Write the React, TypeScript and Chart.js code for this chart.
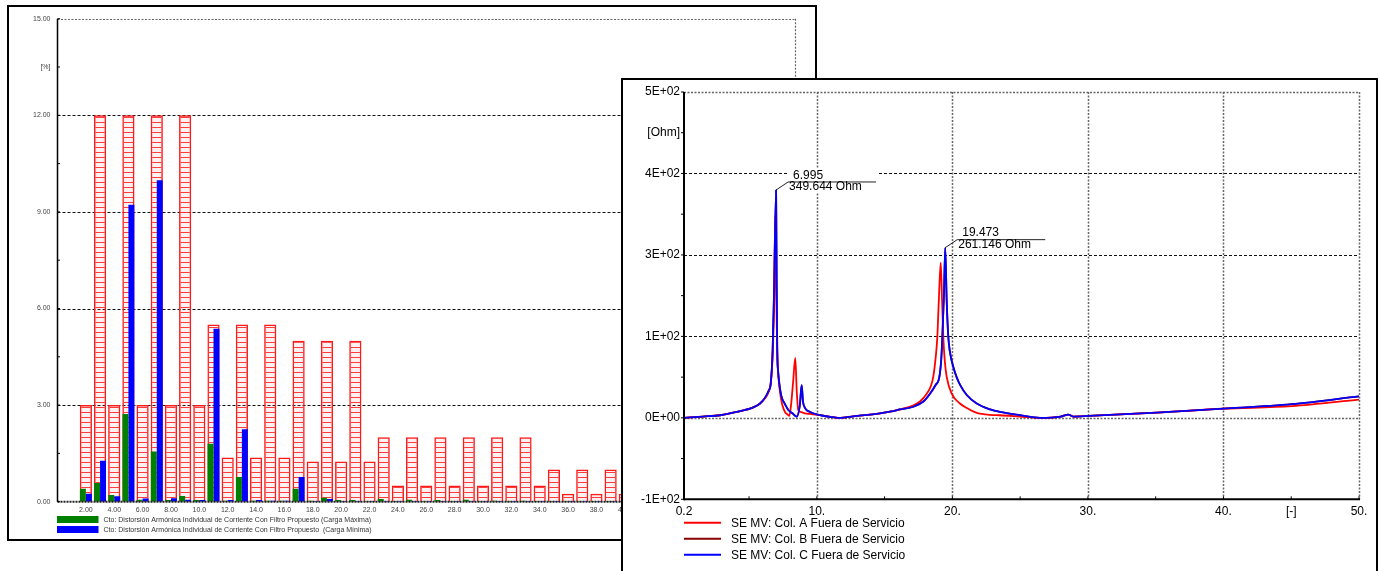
import React, { useEffect, useRef } from 'react';
import { Chart, registerables } from 'chart.js';

Chart.register(...registerables);

const FONT = "'Liberation Sans', Arial, Helvetica, sans-serif";

// ---------------- Left chart: individual harmonic current distortion ----------------
const harmonicOrders = [
  2, 3, 4, 5, 6, 7, 8, 9, 10, 11, 12, 13, 14, 15, 16, 17, 18, 19, 20, 21, 22, 23, 24, 25, 26,
  27, 28, 29, 30, 31, 32, 33, 34, 35, 36, 37, 38, 39, 40, 41, 42, 43, 44, 45, 46, 47, 48, 49, 50,
];
const limitIEEE = [
  3, 12, 3, 12, 3, 12, 3, 12, 3,
  5.5, 1.375, 5.5, 1.375, 5.5, 1.375,
  5, 1.25, 5, 1.25, 5, 1.25,
  2, 0.5, 2, 0.5, 2, 0.5, 2, 0.5, 2, 0.5, 2, 0.5,
  1, 0.25, 1, 0.25, 1, 0.25, 1, 0.25, 1, 0.25, 1, 0.25, 1, 0.25,
];
const distCargaMaxima = [
  0.4, 0.58, 0.21, 2.72, 0.06, 1.56, 0.05, 0.18, 0.05,
  1.8, 0.03, 0.77, 0.03, 0.03, 0.03,
  0.4, 0.03, 0.12, 0.05, 0.05, 0.02,
  0.08, 0.02, 0.06, 0.02, 0.05, 0.02, 0.06, 0.02, 0.03, 0.02, 0.03, 0.02,
  0.02, 0.02, 0.02, 0.02, 0.02, 0.02, 0.02, 0.02, 0.02, 0.02, 0.02, 0.02, 0.02, 0.02,
];
const distCargaMinima = [
  0.25, 1.27, 0.17, 9.22, 0.1, 9.98, 0.11, 0.06, 0.05,
  5.37, 0.05, 2.25, 0.05, 0.03, 0.03,
  0.77, 0.02, 0.08, 0.02, 0.02, 0.02,
  0.02, 0.02, 0.02, 0.02, 0.02, 0.02, 0.02, 0.02, 0.02, 0.02, 0.02, 0.02,
  0.02, 0.02, 0.02, 0.02, 0.02, 0.02, 0.02, 0.02, 0.02, 0.02, 0.02, 0.02, 0.02, 0.02,
];
const leftLegendLabels = [
  'Cto: Distorsión Armónica Individual de Corriente Con Filtro Propuesto (Carga Máxima)',
  'Cto: Distorsión Armónica Individual de Corriente Con Filtro Propuesto  (Carga Mínima)',
];
const leftMajorY = [3, 6, 9, 12];

// ---------------- Right chart: frequency sweep impedance ----------------
const harmA = [
  0.2, 1.6, 2.86, 4.09, 5.31, 5.81, 6.18, 6.45, 6.6, 6.74,
  6.85, 6.93, 7.0, 7.08, 7.18, 7.28, 7.45, 7.65, 7.85, 7.97,
  8.1, 8.25, 8.41, 8.52, 8.63, 8.8, 9.13, 9.5, 10.23, 11.0,
  11.56, 13.0, 14.66, 15.5, 16.14, 17.1, 17.61, 18.11, 18.4, 18.59,
  18.78, 18.89, 19.0, 19.14, 19.24, 19.33, 19.45, 19.58, 19.95, 20.56,
  21.06, 21.75, 22.78, 23.51, 25.0, 26.47, 28.0, 28.55, 28.92, 30.06,
  35.07, 40.02, 45.03, 50.0,
];
const zA = [
  0, 2, 4, 9, 16, 22, 30, 40, 53, 95,
  180, 310, 200, 100, 60, 40, 20, 9, 5, 3,
  20, 55, 92, 40, 12, 9, 7, 6, 4, 1.5,
  0, 3, 7, 10, 13, 19, 25, 37, 48, 63,
  95, 124, 180, 238, 180, 124, 85, 63, 37, 22,
  15, 8, 4.5, 4, 2, 0, 2, 5, 2, 3,
  8, 14, 18, 28,
];
const harmC = [
  0.2, 1.6, 2.86, 4.09, 5.31, 5.81, 6.18, 6.45, 6.6, 6.74,
  6.85, 6.995, 7.04, 7.08, 7.15, 7.23, 7.4, 7.6, 7.9, 8.2,
  8.52, 8.75, 8.88, 8.98, 9.13, 9.5, 10.23, 11.0, 11.56, 13.0,
  14.66, 15.5, 16.14, 17.12, 17.86, 18.35, 18.75, 19.04, 19.18, 19.26,
  19.38, 19.473, 19.58, 19.7, 19.83, 20.07, 20.32, 20.56, 21.06, 21.8,
  22.78, 23.51, 25.0, 26.47, 28.0, 28.55, 28.92, 30.06, 35.07, 40.02,
  45.03, 50.0,
];
const zC = [
  0, 2, 4, 9, 16, 22, 31, 42, 53, 104,
  200, 349.644, 200, 104, 70, 53, 32, 23, 12, 7,
  2, 20, 50, 25, 15, 9, 4, 1.5, 0, 3,
  7, 10, 13, 17, 25, 37, 50, 63, 90, 124,
  190, 261.146, 180, 124, 100, 78, 62, 51, 35, 22,
  13, 9, 4, 0, 2, 5, 2, 3, 8, 14,
  21, 33,
];
// Col. B coincides with Col. C (hidden under it)
const harmB = harmC.slice();
const zB = zC.slice();
const seriesLabels = [
  'SE MV: Col. A Fuera de Servicio',
  'SE MV: Col. B Fuera de Servicio',
  'SE MV: Col. C Fuera de Servicio',
];
const seriesColors = ['#ff0000', '#8b0000', '#0000ff'];
const peakX = [6.995, 19.473];
const peakZ = [349.644, 261.146];
const rightXTicks = [0.2, 5, 10, 15, 20, 25, 30, 35, 40, 45, 50];
const rightMajorX = [10, 20, 30, 40, 50];
const rightDashedY = [375, 250, 125];
const rightDottedY = [0, 500];

function seg(ctx: any, x1: number, y1: number, x2: number, y2: number, color: string, width: number, dash: number[]) {
  ctx.save();
  ctx.strokeStyle = color;
  ctx.lineWidth = width;
  ctx.setLineDash(dash);
  ctx.beginPath();
  ctx.moveTo(x1, y1);
  ctx.lineTo(x2, y2);
  ctx.stroke();
  ctx.restore();
}

function LeftChart() {
  const ref = useRef<HTMLCanvasElement>(null);
  useEffect(() => {
    const canvas = ref.current as HTMLCanvasElement;
    const pc = document.createElement('canvas');
    pc.width = 8;
    pc.height = 5;
    const p = pc.getContext('2d') as CanvasRenderingContext2D;
    p.fillStyle = 'rgba(255,120,120,0.10)';
    p.fillRect(0, 0, 8, 5);
    p.fillStyle = 'rgba(255,40,40,0.9)';
    p.fillRect(0, 0, 8, 1);
    const pattern = (canvas.getContext('2d') as CanvasRenderingContext2D).createPattern(pc, 'repeat');

    const decor = {
      id: 'leftDecor',
      beforeDatasetsDraw(chart: any) {
        const { ctx, chartArea: a, scales } = chart;
        const x = scales.x;
        const y = scales.y;
        for (const v of leftMajorY) {
          const py = Math.round(y.getPixelForValue(v)) + 0.5;
          seg(ctx, a.left, py, a.right, py, '#111', 1, [3, 2]);
        }
        const pt = Math.round(y.getPixelForValue(y.max)) + 0.5;
        seg(ctx, a.left, pt, a.right, pt, '#666', 1.2, [2, 1.5]);
        const pr = Math.round(x.getPixelForValue(x.max)) + 0.5;
        seg(ctx, pr, a.top, pr, a.bottom, '#666', 1.2, [2, 1.5]);
      },
      afterDatasetsDraw(chart: any) {
        const { ctx, chartArea: a, scales } = chart;
        const y = scales.y;
        seg(ctx, a.left, a.bottom, a.right, a.bottom, '#222', 2, [2, 1]);
        seg(ctx, a.left, a.top, a.left, a.bottom, '#000', 1.5, []);
        y.ticks.forEach((t: any) => {
          const py = y.getPixelForValue(t.value);
          seg(ctx, a.left, py, a.left + 2.5, py, '#000', 1, []);
        });
        const cols = ['#008000', '#0000ff'];
        leftLegendLabels.forEach((t, i) => {
          const ry = a.bottom + 14.3 + i * 10;
          ctx.save();
          ctx.fillStyle = cols[i];
          ctx.fillRect(a.left - 0.5, ry, 41.5, 7);
          ctx.fillStyle = '#333';
          ctx.font = `7px ${FONT}`;
          ctx.textBaseline = 'middle';
          ctx.fillText(t, a.left + 46, ry + 3.7);
          ctx.restore();
        });
      },
    };

    const chart = new Chart(canvas, {
      type: 'bar',
      data: {
        labels: harmonicOrders,
        datasets: [
          {
            label: 'Límite',
            data: limitIEEE,
            grouped: false,
            order: 1,
            backgroundColor: pattern as any,
            borderColor: '#ff1a1a',
            borderWidth: 1.5,
            categoryPercentage: 1,
            barPercentage: 0.86,
          } as any,
          {
            label: leftLegendLabels[0],
            data: distCargaMaxima,
            order: 0,
            backgroundColor: '#008000',
            borderWidth: 0,
            categoryPercentage: 0.84,
            barPercentage: 1,
          },
          {
            label: leftLegendLabels[1],
            data: distCargaMinima,
            order: 0,
            backgroundColor: '#0000ff',
            borderWidth: 0,
            categoryPercentage: 0.84,
            barPercentage: 1,
          },
        ],
      },
      options: {
        animation: false,
        responsive: false,
        maintainAspectRatio: false,
        events: [],
        layout: { padding: { left: 0, top: 11.7, right: 20, bottom: 0 } },
        plugins: { legend: { display: false }, tooltip: { enabled: false } },
        scales: {
          x: {
            type: 'linear',
            min: 0,
            max: 52,
            offset: false,
            grid: { display: false, drawTicks: false, offset: false },
            border: { display: false },
            afterFit: (s: any) => {
              s.height = 37.3;
            },
            ticks: {
              stepSize: 2,
              autoSkip: false,
              maxRotation: 0,
              padding: 4,
              color: '#444',
              font: { family: FONT, size: 7 },
              callback: (v: any) => {
                const n = Number(v);
                if (n <= 0 || n > 50) return '';
                return n < 10 ? n.toFixed(2) : n.toFixed(1);
              },
            },
          },
          y: {
            type: 'linear',
            min: 0,
            max: 15,
            grid: { display: false, drawTicks: false },
            border: { display: false },
            afterFit: (s: any) => {
              s.width = 48.5;
            },
            ticks: {
              stepSize: 1.5,
              autoSkip: false,
              padding: 7,
              color: '#444',
              font: { family: FONT, size: 7 },
              callback: (v: any) => {
                const n = Number(v);
                if (Math.abs(n - 13.5) < 1e-6) return '[%]';
                if (Math.abs(n / 3 - Math.round(n / 3)) < 1e-6) return n.toFixed(2);
                return '';
              },
            },
          },
        },
      } as any,
      plugins: [decor],
    });
    return () => chart.destroy();
  }, []);
  return <canvas ref={ref} width={806} height={532} style={{ display: 'block' }} />;
}

function RightChart() {
  const ref = useRef<HTMLCanvasElement>(null);
  useEffect(() => {
    const canvas = ref.current as HTMLCanvasElement;
    const decor = {
      id: 'rightDecor',
      beforeDatasetsDraw(chart: any) {
        const { ctx, chartArea: a, scales } = chart;
        const x = scales.x;
        const y = scales.y;
        for (const v of rightDashedY) {
          const py = Math.round(y.getPixelForValue(v)) + 0.5;
          seg(ctx, a.left, py, a.right, py, '#111', 1, [3, 2]);
        }
        for (const v of rightDottedY) {
          const py = Math.round(y.getPixelForValue(v)) + 0.5;
          seg(ctx, a.left, py, a.right, py, '#666', 1.5, [2, 1.5]);
        }
        for (const v of rightMajorX) {
          const px = Math.round(x.getPixelForValue(v)) + 0.5;
          seg(ctx, px, a.top, px, a.bottom, '#666', 1.5, [2, 1.5]);
        }
      },
      afterDatasetsDraw(chart: any) {
        const { ctx, chartArea: a, scales } = chart;
        const x = scales.x;
        const y = scales.y;
        // peak annotations
        peakX.forEach((vx, i) => {
          const px = x.getPixelForValue(vx);
          const py = y.getPixelForValue(peakZ[i]);
          ctx.save();
          ctx.fillStyle = '#fff';
          ctx.fillRect(px + 11, py - 22, 90, 24);
          ctx.strokeStyle = '#222';
          ctx.lineWidth = 1;
          ctx.beginPath();
          ctx.moveTo(px, py);
          ctx.lineTo(px + 12, py - 8);
          ctx.lineTo(px + 100, py - 8);
          ctx.stroke();
          ctx.fillStyle = '#000';
          ctx.font = `12px ${FONT}`;
          ctx.textBaseline = 'middle';
          ctx.fillText(vx.toFixed(3), px + 17, py - 14.5);
          ctx.fillText(`${peakZ[i].toFixed(3)} Ohm`, px + 13, py - 3);
          ctx.restore();
        });
        // axes
        seg(ctx, a.left, a.top, a.left, a.bottom + 1, '#000', 2, []);
        seg(ctx, a.left, a.bottom, a.right + 1, a.bottom, '#000', 2, []);
        y.ticks.forEach((t: any) => {
          const py = y.getPixelForValue(t.value);
          seg(ctx, a.left - 3, py, a.left, py, '#000', 1, []);
        });
        x.ticks.forEach((t: any) => {
          const px = x.getPixelForValue(t.value);
          seg(ctx, px, a.bottom, px, a.bottom - 3, '#000', 1, []);
        });
        // legend
        seriesLabels.forEach((t, i) => {
          const ly = a.bottom + 23.4 + i * 16;
          seg(ctx, a.left, ly, a.left + 37, ly, seriesColors[i], 2, []);
          ctx.save();
          ctx.fillStyle = '#000';
          ctx.font = `12px ${FONT}`;
          ctx.textBaseline = 'middle';
          ctx.fillText(t, a.left + 47, ly + 0.5);
          ctx.restore();
        });
      },
    };

    const mk = (xs: number[], ys: number[]) => xs.map((v, i) => ({ x: v, y: ys[i] }));

    const chart = new Chart(canvas, {
      type: 'line',
      data: {
        datasets: [
          {
            label: seriesLabels[0],
            data: mk(harmA, zA),
            borderColor: seriesColors[0],
            borderWidth: 1.8,
            pointRadius: 0,
            cubicInterpolationMode: 'monotone',
            order: 1,
          },
          {
            label: seriesLabels[1],
            data: mk(harmB, zB),
            borderColor: seriesColors[1],
            borderWidth: 1.8,
            pointRadius: 0,
            cubicInterpolationMode: 'monotone',
            order: 2,
          },
          {
            label: seriesLabels[2],
            data: mk(harmC, zC),
            borderColor: seriesColors[2],
            borderWidth: 1.8,
            pointRadius: 0,
            cubicInterpolationMode: 'monotone',
            order: 0,
          },
        ],
      },
      options: {
        animation: false,
        responsive: false,
        maintainAspectRatio: false,
        events: [],
        layout: { padding: { left: 0, top: 12, right: 17, bottom: 0 } },
        plugins: { legend: { display: false }, tooltip: { enabled: false } },
        scales: {
          x: {
            type: 'linear',
            min: 0.2,
            max: 50,
            grid: { display: false, drawTicks: false },
            border: { display: false },
            afterBuildTicks: (s: any) => {
              s.ticks = rightXTicks.map((v) => ({ value: v }));
            },
            afterFit: (s: any) => {
              s.height = 71.7;
            },
            ticks: {
              autoSkip: false,
              maxRotation: 0,
              padding: 5,
              color: '#000',
              font: { family: FONT, size: 12 },
              callback: (v: any) => {
                const n = Number(v);
                if (Math.abs(n - 0.2) < 1e-6) return '0.2';
                if (n === 45) return '[-]';
                if (n % 10 === 0) return `${n}.`;
                return '';
              },
            },
          },
          y: {
            type: 'linear',
            min: -125,
            max: 500,
            grid: { display: false, drawTicks: false },
            border: { display: false },
            afterFit: (s: any) => {
              s.width = 61;
            },
            ticks: {
              stepSize: 62.5,
              autoSkip: false,
              padding: 4,
              color: '#000',
              font: { family: FONT, size: 12 },
              callback: (v: any) => {
                const n = Number(v);
                if (n === 437.5) return '[Ohm]';
                if (n % 125 !== 0) return '';
                const e = n === 0 ? 0 : 2;
                const m = Math.round(n / Math.pow(10, e));
                return `${m}E+${String(e).padStart(2, '0')}`;
              },
            },
          },
        },
      } as any,
      plugins: [decor],
    });
    return () => chart.destroy();
  }, []);
  return <canvas ref={ref} width={753} height={491} style={{ display: 'block' }} />;
}

export default function App() {
  useEffect(() => {
    document.body.style.overflow = 'hidden';
  }, []);
  return (
    <>
      <div
        style={{
          position: 'absolute',
          left: 7,
          top: 5,
          width: 810,
          height: 536,
          border: '2px solid #000',
          boxSizing: 'border-box',
          background: '#fff',
          zIndex: 1,
        }}
      >
        <LeftChart />
      </div>
      <div
        style={{
          position: 'absolute',
          left: 621,
          top: 78,
          width: 757,
          height: 493,
          borderTop: '2px solid #000',
          borderLeft: '2px solid #000',
          borderRight: '2px solid #000',
          boxSizing: 'border-box',
          background: '#fff',
          zIndex: 2,
        }}
      >
        <RightChart />
      </div>
    </>
  );
}
